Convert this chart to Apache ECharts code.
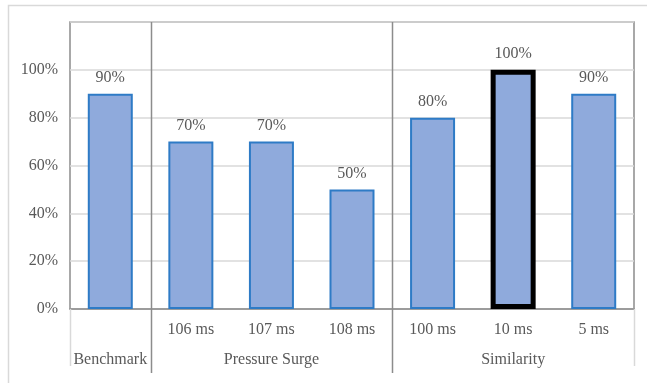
<!DOCTYPE html>
<html><head><meta charset="utf-8">
<script src="https://cdn.jsdelivr.net/npm/echarts@6/dist/echarts.min.js"></script>
<style>html,body{margin:0;padding:0;background:#fff}#c{width:647px;height:383px}</style>
</head><body><div id="c"></div>
<script>
const categories = ['', '106 ms', '107 ms', '108 ms', '100 ms', '10 ms', '5 ms'];
const values = [0.9, 0.7, 0.7, 0.5, 0.8, 1.0, 0.9];
const groupNames = ['Benchmark', 'Pressure Surge', 'Similarity'];
const groupSizes = [1, 3, 3];
const highlighted = [false, false, false, false, false, true, false];
const yMin = 0, yMax = 1.2, yStep = 0.2;

const FONT = '"Liberation Serif","Times New Roman",serif';
const TEXT = '#595959';
const DARK = '#8c8c8c';
const LIGHT = '#d9d9d9';

const groupLabels = [];
const groupBoundaries = [];
let acc = 0;
groupSizes.forEach((n, g) => {
  for (let k = 0; k < n; k++) groupLabels.push(k === Math.floor((n - 1) / 2) ? groupNames[g] : '');
  acc += n;
  groupBoundaries.push(acc);
});

const chart = echarts.init(document.getElementById('c'), null, {renderer: 'canvas'});
chart.setOption({
  animation: false,
  backgroundColor: '#fff',
  grid: {left: 70, right: 13, top: 22, bottom: 74, show: true, borderColor: DARK, borderWidth: 1.5, backgroundColor: 'transparent'},
  xAxis: [
    {type: 'category', data: categories, position: 'bottom',
     axisLine: {show: true, lineStyle: {color: DARK, width: 1.5}},
     axisTick: {show: false},
     axisLabel: {interval: 0, margin: 13, color: TEXT, fontFamily: FONT, fontSize: 16}},
    {type: 'category', data: categories, position: 'bottom',
     axisLine: {show: false}, axisTick: {show: false}, splitLine: {show: false},
     axisLabel: {interval: 0, margin: 43, color: TEXT, fontFamily: FONT, fontSize: 16,
                 formatter: (v, i) => groupLabels[i]}}
  ],
  yAxis: {type: 'value', min: yMin, max: yMax, interval: yStep,
    axisLine: {show: false}, axisTick: {show: false},
    splitLine: {show: true, lineStyle: {color: LIGHT, width: 1.5}},
    axisLabel: {margin: 12, color: TEXT, fontFamily: FONT, fontSize: 16,
      formatter: v => (v > yMax - 1e-9 ? '' : Math.round(v * 100) + '%')}},
  series: [{
    type: 'bar', xAxisIndex: 0, barWidth: 45,
    data: values.map((v, i) => highlighted[i]
      ? {value: v, itemStyle: {color: '#8faadc', borderColor: '#000', borderWidth: 5}}
      : {value: v}),
    itemStyle: {color: '#8faadc', borderColor: '#2e7bc6', borderWidth: 2},
    label: {show: true, position: 'top', distance: 8, color: TEXT, fontFamily: FONT, fontSize: 16,
      formatter: p => Math.round(p.value * 100) + '%'}
  }]
});

// Decorative divider lines derived from the axis scales
const c0 = chart.convertToPixel({xAxisIndex: 0}, 0);
const c1 = chart.convertToPixel({xAxisIndex: 0}, 1);
const band = c1 - c0;
const boundaryX = b => c0 - band / 2 + b * band;
const yTop = chart.convertToPixel({yAxisIndex: 0}, yMax);
const yBot = chart.convertToPixel({yAxisIndex: 0}, yMin);
const gfx = [];
groupBoundaries.slice(0, -1).forEach(b => {
  const x = Math.round(boundaryX(b)) + 0.5;
  gfx.push({type: 'line', shape: {x1: x, y1: yTop, x2: x, y2: yBot + 64}, style: {stroke: DARK, lineWidth: 1.5}, z: 10});
});
[0, categories.length].forEach(b => {
  const x = Math.round(boundaryX(b)) + 0.5;
  gfx.push({type: 'line', shape: {x1: x, y1: yBot, x2: x, y2: yBot + 57}, style: {stroke: LIGHT, lineWidth: 1.5}, z: 10});
});
gfx.push({type: 'rect', shape: {x: 8.5, y: 5.5, width: 700, height: 420}, style: {fill: 'none', stroke: LIGHT, lineWidth: 1.5}, z: 10});
chart.setOption({graphic: gfx});
</script>
</body></html>
